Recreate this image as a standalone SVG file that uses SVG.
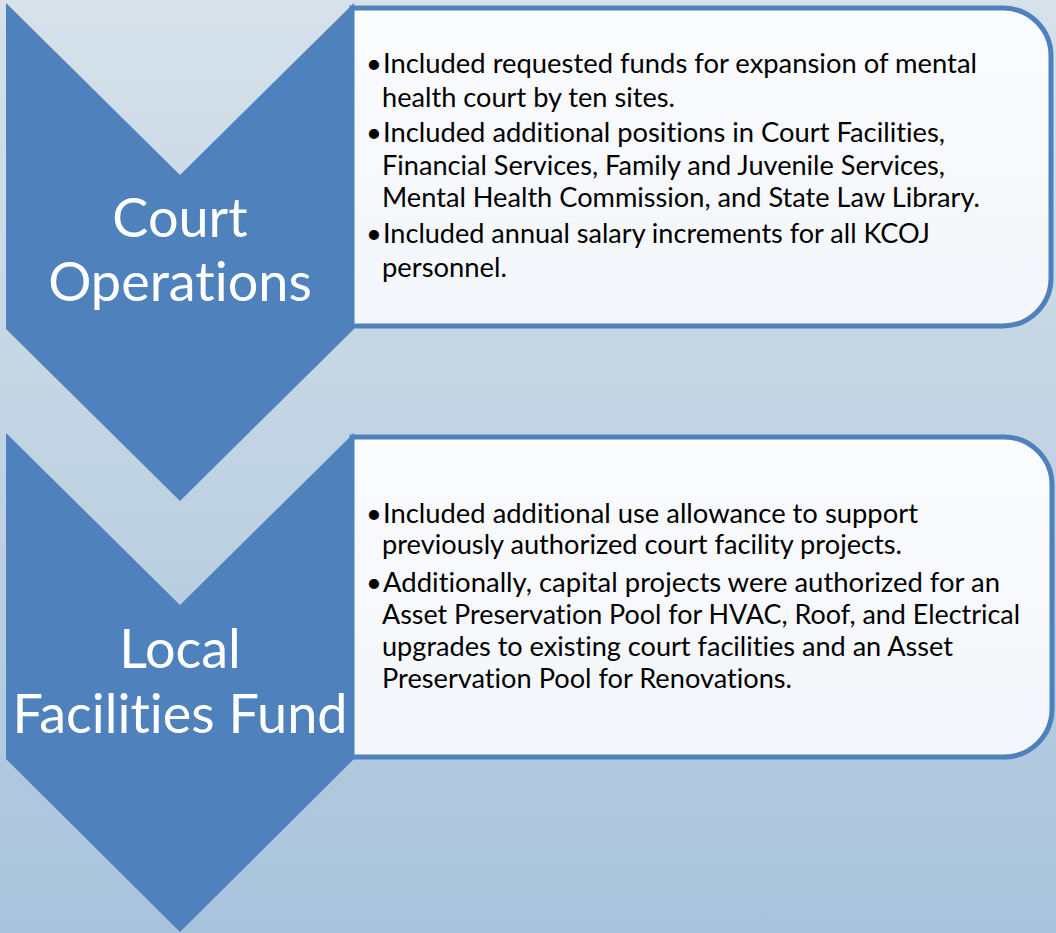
<svg xmlns="http://www.w3.org/2000/svg" width="1056" height="933" viewBox="0 0 1056 933">
  <defs>
    <linearGradient id="bg" x1="0" y1="0" x2="0" y2="1">
      <stop offset="0" stop-color="#d6e1ea"/>
      <stop offset="0.5" stop-color="#c0d3e2"/>
      <stop offset="1" stop-color="#a8c3dc"/>
    </linearGradient>
    <linearGradient id="boxfill" x1="0" y1="0" x2="0" y2="1">
      <stop offset="0" stop-color="#fafbfd"/>
      <stop offset="1" stop-color="#f3f6fa"/>
    </linearGradient>
    <style>
      .chev { fill: #4f81bd; }
      .box { fill: url(#boxfill); stroke: #4f81bd; stroke-width: 5; }
      .title { font-family: Lato, "Liberation Sans", sans-serif; font-size: 54px; fill: #ffffff; text-anchor: middle; font-variant-ligatures: none; font-feature-settings: "liga" 0, "clig" 0; }
      .body { font-family: Lato, "Liberation Sans", sans-serif; font-size: 27.3px; fill: #000000; font-variant-ligatures: none; font-feature-settings: "liga" 0, "clig" 0; }
    </style>
  </defs>
  <rect x="0" y="0" width="1056" height="933" fill="url(#bg)"/>

  <g id="box1">
    <path class="box" d="M352 8 H1003 A48 48 0 0 1 1051 56 V278 A48 48 0 0 1 1003 326 H352 Z"/>
    <text class="body" x="366" y="73">•</text>
    <text class="body" x="383" y="73" textLength="594" lengthAdjust="spacingAndGlyphs">Included requested funds for expansion of mental</text>
    <text class="body" x="382" y="107" textLength="293" lengthAdjust="spacingAndGlyphs">health court by ten sites.</text>
    <text class="body" x="366" y="142">•</text>
    <text class="body" x="383" y="142" textLength="562" lengthAdjust="spacingAndGlyphs">Included additional positions in Court Facilities,</text>
    <text class="body" x="382" y="175" textLength="563" lengthAdjust="spacingAndGlyphs">Financial Services, Family and Juvenile Services,</text>
    <text class="body" x="382" y="207" textLength="598" lengthAdjust="spacingAndGlyphs">Mental Health Commission, and State Law Library.</text>
    <text class="body" x="366" y="243">•</text>
    <text class="body" x="383" y="243" textLength="547" lengthAdjust="spacingAndGlyphs">Included annual salary increments for all KCOJ</text>
    <text class="body" x="382" y="277" textLength="125" lengthAdjust="spacingAndGlyphs">personnel.</text>
  </g>

  <g id="box2">
    <path class="box" d="M352 437 H1004 A48 48 0 0 1 1052 485 V709 A48 48 0 0 1 1004 757 H352 Z"/>
    <text class="body" x="366" y="523">•</text>
    <text class="body" x="383" y="523" textLength="535" lengthAdjust="spacingAndGlyphs">Included additional use allowance to support</text>
    <text class="body" x="382" y="554" textLength="520" lengthAdjust="spacingAndGlyphs">previously authorized court facility projects.</text>
    <text class="body" x="366" y="592">•</text>
    <text class="body" x="383" y="592" textLength="617" lengthAdjust="spacingAndGlyphs">Additionally, capital projects were authorized for an</text>
    <text class="body" x="382" y="624" textLength="638" lengthAdjust="spacingAndGlyphs">Asset Preservation Pool for HVAC, Roof, and Electrical</text>
    <text class="body" x="382" y="656" textLength="571" lengthAdjust="spacingAndGlyphs">upgrades to existing court facilities and an Asset</text>
    <text class="body" x="382" y="688" textLength="410" lengthAdjust="spacingAndGlyphs">Preservation Pool for Renovations.</text>
  </g>

  <g id="chevron1">
    <polygon class="chev" points="6,3 180,175 354,3 354,329 180,501 6,329"/>
    <text class="title"><tspan x="180" y="237">Court</tspan><tspan x="180" y="301">Operations</tspan></text>
  </g>

  <g id="chevron2">
    <polygon class="chev" points="6,433 180,605 354,433 354,759 180,932 6,759"/>
    <text class="title"><tspan x="180" y="668">Local</tspan><tspan x="180" y="733">Facilities Fund</tspan></text>
  </g>

  <g id="connectors"></g>
</svg>
